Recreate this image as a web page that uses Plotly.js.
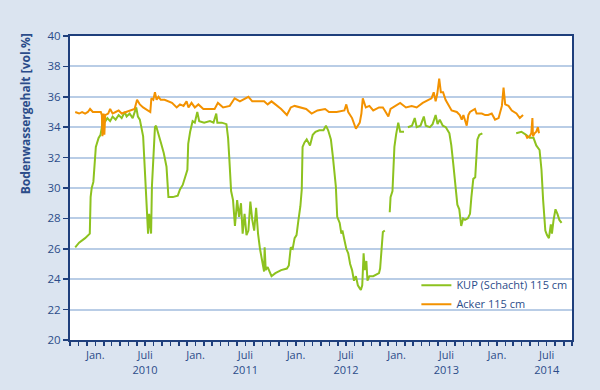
<!DOCTYPE html>
<html>
<head>
<meta charset="utf-8">
<script src="https://cdn.plot.ly/plotly-3.0.1.min.js"></script>
<style>
html,body{margin:0;padding:0;background:#dbe4f0;}
#chart{width:600px;height:390px;}
</style>
</head>
<body>
<div id="chart"></div>
<script>
// ---- data ----
const kupDates = [
"2009-10-20","2009-11-03","2009-11-25","2009-12-12","2009-12-15","2009-12-19","2009-12-25","2010-01-03","2010-01-13","2010-01-20",
"2010-01-25","2010-01-28","2010-02-03","2010-02-14","2010-02-24","2010-03-05","2010-03-16","2010-03-27","2010-04-07","2010-04-18",
"2010-04-25","2010-05-06","2010-05-17","2010-05-30","2010-06-05","2010-06-12","2010-06-24","2010-07-01","2010-07-08","2010-07-12",
"2010-07-16","2010-07-20","2010-07-23","2010-07-26","2010-08-01","2010-08-06","2010-08-10","2010-08-19","2010-08-29","2010-09-07",
"2010-09-17","2010-09-24","2010-10-10","2010-10-28","2010-11-05","2010-11-15","2010-11-23","2010-12-02","2010-12-05","2010-12-12",
"2010-12-21","2010-12-29","2011-01-07","2011-01-14","2011-02-01","2011-02-22","2011-03-07","2011-03-17","2011-03-21","2011-04-06",
"2011-04-23","2011-04-29","2011-05-03","2011-05-10","2011-05-17","2011-05-24","2011-06-01","2011-06-08","2011-06-15","2011-06-21",
"2011-06-28","2011-07-05","2011-07-12","2011-07-19","2011-07-26","2011-08-02","2011-08-09","2011-08-16","2011-08-23","2011-08-30",
"2011-09-07","2011-09-09","2011-09-13","2011-09-20","2011-10-04","2011-10-18","2011-11-08","2011-11-29","2011-12-06","2011-12-13",
"2011-12-20","2011-12-27","2012-01-03","2012-01-10","2012-01-17","2012-01-22","2012-01-25","2012-02-01","2012-02-09","2012-02-21",
"2012-03-02","2012-03-12","2012-03-26","2012-04-10","2012-04-19","2012-04-27","2012-05-07","2012-05-14","2012-05-21","2012-05-25",
"2012-05-30","2012-06-08","2012-06-14","2012-06-18","2012-06-25","2012-07-02","2012-07-09","2012-07-16","2012-07-23","2012-07-30",
"2012-08-06","2012-08-13","2012-08-20","2012-08-24","2012-08-29","2012-09-03","2012-09-07","2012-09-13","2012-09-17","2012-09-24",
"2012-10-08","2012-10-22","2012-10-29","2012-11-02","2012-11-08","2012-11-10","2012-11-12","2012-11-19","2012-11-28",
"2012-12-07","2012-12-10","2012-12-17","2012-12-24","2012-12-30","2013-01-07","2013-01-14","2013-01-28","2013-02-04",
"2013-02-11","2013-02-26","2013-03-08","2013-03-15","2013-03-29","2013-04-10","2013-04-17","2013-05-02","2013-05-12","2013-05-23",
"2013-05-30","2013-06-07","2013-06-18","2013-06-29","2013-07-12","2013-07-19","2013-07-26","2013-08-03","2013-08-10","2013-08-17",
"2013-08-24","2013-08-31","2013-09-07","2013-09-17","2013-09-25","2013-09-30","2013-10-07","2013-10-14","2013-10-18","2013-10-22",
"2013-10-29","2013-11-09","2014-01-01",
"2014-03-12","2014-03-31","2014-04-17","2014-04-30","2014-05-14","2014-05-24","2014-06-05","2014-06-12","2014-06-18","2014-06-26",
"2014-07-02","2014-07-09","2014-07-16","2014-07-20","2014-07-26","2014-08-02","2014-08-09","2014-08-16","2014-08-24"
];
const kupValues = [
26.1,26.4,26.7,27.0,29.4,30.0,30.4,32.7,33.3,33.5,
34.0,34.6,34.3,34.6,34.4,34.7,34.5,34.8,34.6,35.0,
34.7,34.9,34.6,35.3,34.7,34.5,33.4,31.2,28.6,27.0,
28.3,27.1,27.0,30.1,32.1,34.0,34.1,33.6,32.9,32.3,
31.4,29.4,29.4,29.5,29.9,30.2,30.7,31.2,32.9,33.7,
34.4,34.3,35.0,34.4,34.3,34.4,34.3,34.9,34.3,34.3,
34.2,33.3,32.1,29.8,29.2,27.5,29.2,28.1,29.0,27.0,
28.3,26.9,27.2,29.1,27.9,27.2,28.7,27.0,26.0,25.3,
24.5,26.1,24.6,24.8,24.2,24.4,24.6,24.7,24.9,26.1,
26.0,26.7,26.9,27.9,28.8,29.9,32.7,33.0,33.2,32.8,
33.5,33.7,33.8,33.8,34.1,33.8,33.2,32.1,30.7,30.1,
28.1,27.7,27.0,27.2,26.6,26.0,25.7,25.0,24.6,23.9,
24.2,23.6,23.4,23.3,23.6,25.7,24.6,25.2,23.9,24.2,
24.2,24.3,24.4,24.7,25.9,26.8,27.1,27.2,null,
28.4,29.4,29.8,32.7,33.5,34.3,33.7,33.7,null,
34.0,34.1,34.6,34.0,34.1,34.7,34.1,34.0,34.2,34.8,
34.2,34.5,34.1,34.0,33.6,32.8,31.6,30.1,28.9,28.6,
27.5,28.0,27.9,28.0,28.3,29.4,30.6,30.7,32.1,33.2,
33.5,33.6,null,
33.6,33.7,33.5,33.3,33.3,32.8,32.5,31.2,29.2,27.2,
26.9,26.7,27.6,27.0,27.9,28.6,28.3,27.9,27.7
];

const ackerDates = [
"2009-10-20","2009-11-03","2009-11-14","2009-11-25","2009-12-05","2009-12-13","2009-12-23","2010-01-08","2010-01-21","2010-01-25",
"2010-01-27","2010-01-31","2010-02-03","2010-02-06","2010-02-17","2010-02-24","2010-03-05","2010-03-16","2010-03-27","2010-04-07",
"2010-04-24","2010-05-12","2010-05-24","2010-06-02","2010-06-12","2010-06-24","2010-07-12","2010-07-20","2010-07-24","2010-07-31",
"2010-08-06","2010-08-12","2010-08-19","2010-08-27","2010-09-10","2010-09-23","2010-10-07","2010-10-24","2010-11-05","2010-11-18",
"2010-11-29","2010-12-06","2010-12-17","2010-12-29","2011-01-11","2011-01-29","2011-02-22","2011-03-11","2011-03-23","2011-04-11",
"2011-05-05","2011-05-23","2011-06-11","2011-06-29","2011-07-12","2011-07-26","2011-08-09","2011-08-22","2011-09-07","2011-09-20",
"2011-10-04","2011-10-18","2011-11-08","2011-11-29","2011-12-13","2011-12-27","2012-01-17","2012-02-07","2012-02-27","2012-03-19",
"2012-04-16","2012-04-30","2012-05-28","2012-06-25","2012-07-02","2012-07-09","2012-07-23","2012-08-06","2012-08-20","2012-08-26",
"2012-08-31","2012-09-11","2012-09-24","2012-10-08","2012-10-29","2012-11-12","2012-11-19","2012-12-02","2012-12-10","2012-12-30",
"2013-01-14","2013-02-04","2013-02-25","2013-03-15","2013-04-06","2013-04-27","2013-05-08","2013-05-16","2013-05-23","2013-05-29",
"2013-06-05","2013-06-11","2013-06-19","2013-06-28","2013-07-07","2013-07-20","2013-08-08","2013-08-19","2013-08-26","2013-09-01",
"2013-09-13","2013-09-19","2013-09-25","2013-10-13","2013-10-19","2013-11-07","2013-11-19","2013-11-30","2013-12-13","2013-12-25",
"2014-01-07","2014-01-19","2014-01-25","2014-01-31","2014-02-12","2014-02-24","2014-03-13","2014-03-25","2014-04-06","2014-04-11",
"2014-04-16","2014-04-21","2014-04-30","2014-05-06","2014-05-10","2014-05-12","2014-05-18","2014-05-24","2014-05-30","2014-06-03"
];
const ackerValues = [
35.0,34.9,35.0,34.9,35.0,35.2,35.0,35.0,35.0,34.8,
33.4,34.9,33.5,34.8,34.9,35.2,34.9,35.0,35.1,34.9,
35.0,35.1,35.2,35.8,35.5,35.3,35.1,35.0,35.9,35.8,
36.3,35.8,36.0,35.8,35.8,35.7,35.6,35.3,35.5,35.4,
35.7,35.3,35.6,35.3,35.5,35.2,35.2,35.2,35.6,35.3,
35.4,35.9,35.7,35.9,36.0,35.7,35.7,35.7,35.7,35.5,
35.7,35.5,35.2,34.8,35.3,35.4,35.3,35.2,34.9,35.1,
35.2,35.0,35.0,35.1,35.5,35.0,34.6,33.9,34.3,34.9,
35.9,35.3,35.4,35.1,35.3,35.3,35.1,34.7,35.2,35.4,
35.6,35.3,35.4,35.3,35.6,35.8,35.9,36.3,35.7,36.2,
37.2,36.3,36.3,35.8,35.5,35.1,35.0,34.8,34.5,34.8,
34.1,34.8,35.0,35.2,34.9,34.9,34.8,34.8,34.9,34.5,
34.6,35.4,36.6,35.5,35.4,35.1,34.9,34.6,34.8,null,
33.5,33.3,33.4,33.6,34.6,33.4,33.6,33.7,34.0,33.6
];

const tickDates = ["2010-01-01","2010-07-01","2011-01-01","2011-07-01","2012-01-01","2012-07-01","2013-01-01","2013-07-01","2014-01-01","2014-07-01"];
const tickLabels = ["Jan.","Juli<br>2010","Jan.","Juli<br>2011","Jan.","Juli<br>2012","Jan.","Juli<br>2013","Jan.","Juli<br>2014"];
const yTicks = [20,22,24,26,28,30,32,34,36,38,40];
const seriesNames = ["KUP (Schacht) 115 cm","Acker 115 cm"];

// ---- styling ----
const axisColor = "#1f3f7c";
const textColor = "#2b4c8a";
const gridColor = "#b9cde6";
const bgColor = "#dbe4f0";
const font = {family:"Open Sans, sans-serif", size:11, color:textColor};

const traces = [
  {x:kupDates, y:kupValues, name:seriesNames[0], type:"scatter", mode:"lines",
   line:{color:"#8dc21f", width:2}, connectgaps:false},
  {x:ackerDates, y:ackerValues, name:seriesNames[1], type:"scatter", mode:"lines",
   line:{color:"#f39200", width:2}, connectgaps:false}
];

const layout = {
  width:600, height:390,
  paper_bgcolor:bgColor, plot_bgcolor:"#ffffff",
  margin:{l:70, r:28, t:36, b:50},
  font:font,
  showlegend:true,
  legend:{x:0.69, y:0.228, xanchor:"left", yanchor:"top", bgcolor:"rgba(0,0,0,0)",
          font:{family:"Open Sans, sans-serif", size:11, color:textColor}, tracegroupgap:0},
  xaxis:{
    type:"date", range:["2009-10-01","2014-10-01"],
    tickmode:"array", tickvals:tickDates, ticktext:tickLabels,
    ticks:"outside", ticklen:4, tickwidth:1.5, tickcolor:axisColor,
    showgrid:false, zeroline:false,
    showline:true, linecolor:axisColor, linewidth:2, mirror:true,
    tickfont:font,
    minor:{tickmode:"linear", tick0:"2009-10-01", dtick:"M1", ticks:"outside", ticklen:4, tickwidth:1.5, tickcolor:axisColor, showgrid:false}
  },
  yaxis:{
    range:[20,40], tickmode:"array", tickvals:yTicks,
    ticks:"outside", ticklen:5, tickwidth:1.5, tickcolor:axisColor,
    showgrid:true, gridcolor:gridColor, gridwidth:2, zeroline:false,
    showline:true, linecolor:axisColor, linewidth:2, mirror:true,
    tickfont:{family:"Open Sans, sans-serif", size:11.5, color:textColor}
  },
  annotations:[
    {text:"<b>Bodenwassergehalt [vol.%]</b>", xref:"paper", yref:"paper",
     x:-0.088, y:0.745, xanchor:"center", yanchor:"middle", textangle:-90, showarrow:false,
     font:{family:"Open Sans, sans-serif", size:12, color:textColor}}
  ]
};

Plotly.newPlot("chart", traces, layout, {displayModeBar:false, staticPlot:true});
</script>
</body>
</html>
